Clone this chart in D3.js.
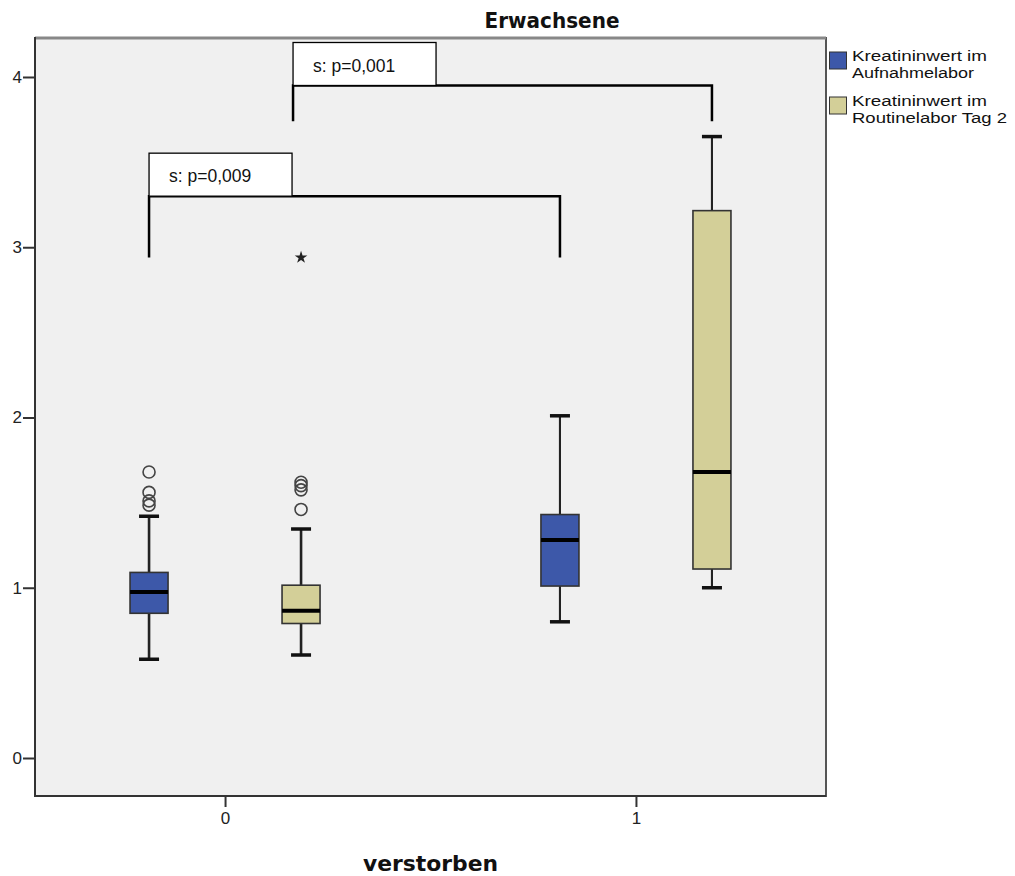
<!DOCTYPE html>
<html><head><meta charset="utf-8">
<script src="https://cdn.jsdelivr.net/npm/d3@7"></script>
<style>body{margin:0;background:#fff}</style>
</head><body><svg id="chart" width="1015" height="876"></svg>
<script>
// ---- data ----
const categories = ["0", "1"];
const seriesNames = ["Kreatininwert im Aufnahmelabor", "Kreatininwert im Routinelabor Tag 2"];
const legendLines = [["Kreatininwert im", "Aufnahmelabor"], ["Kreatininwert im", "Routinelabor Tag 2"]];
const legendWidths = [[135, 122], [135, 155]];
const yTicks = [0, 1, 2, 3, 4];
// index: [series][category]
const whiskerLow  = [[0.58, 0.80], [0.605, 1.00]];
const q1          = [[0.85, 1.01], [0.79, 1.11]];
const median      = [[0.975, 1.28], [0.865, 1.68]];
const q3          = [[1.09, 1.43], [1.015, 3.215]];
const whiskerHigh = [[1.42, 2.01], [1.345, 3.65]];
const outliers    = [[[1.68, 1.56, 1.51, 1.485], []], [[1.62, 1.60, 1.575, 1.46], []]];
const extremes    = [[[], []], [[2.94], []]];
const sigLabels = ["s: p=0,009", "s: p=0,001"];
const sigSeries = [0, 1];
const sigBottom = [2.94, 3.74];
const sigTop    = [3.30, 3.95];
const title = "Erwachsene";
const xTitle = "verstorben";
const colors = ["#3d58a9", "#d3cf98"];

// ---- layout ----
const svg = d3.select("#chart");
const L = 35, R = 826, T = 38, B = 796;
const x = d3.scalePoint().domain(categories).range([L, R]).padding(0.4625);
const off = d3.scalePoint().domain(d3.range(seriesNames.length)).range([-76, 76]);
const y = d3.scaleLinear().domain([-0.2232, 4.229]).range([B, T]);
const bw = 38;

svg.append("rect").attr("x", L).attr("y", T).attr("width", R - L).attr("height", B - T)
  .attr("fill", "#f0f0f0");

// boxes
const items = [];
seriesNames.forEach((s, si) => categories.forEach((c, ci) => items.push({si, ci, cx: x(c) + off(si)})));
const g = svg.append("g");
items.forEach(d => {
  const {si, ci, cx} = d;
  const gg = g.append("g");
  const ww = ci === 0 ? 2.6 : 2.1;
  gg.append("line").attr("x1", cx).attr("x2", cx)
    .attr("y1", y(whiskerLow[si][ci])).attr("y2", y(q1[si][ci]))
    .attr("stroke", "#222").attr("stroke-width", ww);
  gg.append("line").attr("x1", cx).attr("x2", cx)
    .attr("y1", y(q3[si][ci])).attr("y2", y(whiskerHigh[si][ci]))
    .attr("stroke", "#222").attr("stroke-width", ww);
  [whiskerLow[si][ci], whiskerHigh[si][ci]].forEach(v => {
    gg.append("line").attr("x1", cx - 10).attr("x2", cx + 10)
      .attr("y1", y(v)).attr("y2", y(v)).attr("stroke", "#111").attr("stroke-width", 3.5);
  });
  gg.append("rect").attr("x", cx - bw / 2).attr("width", bw)
    .attr("y", y(q3[si][ci])).attr("height", y(q1[si][ci]) - y(q3[si][ci]))
    .attr("fill", colors[si]).attr("stroke", "#333").attr("stroke-width", 1.6);
  gg.append("line").attr("x1", cx - bw / 2).attr("x2", cx + bw / 2)
    .attr("y1", y(median[si][ci])).attr("y2", y(median[si][ci]))
    .attr("stroke", "#000").attr("stroke-width", 4);
  outliers[si][ci].forEach(v => {
    gg.append("circle").attr("cx", cx).attr("cy", y(v)).attr("r", 6)
      .attr("fill", "none").attr("stroke", "#444").attr("stroke-width", 1.6);
  });
  extremes[si][ci].forEach(v => {
    gg.append("path").attr("d", d3.symbol(d3.symbolStar, 50)())
      .attr("transform", `translate(${cx},${y(v)})`).attr("fill", "#222");
  });
});

// significance brackets
sigLabels.forEach((lab, i) => {
  const si = sigSeries[i];
  const x1 = x(categories[0]) + off(si) - (si === 1 ? 8 : 0);
  const x2 = x(categories[1]) + off(si);
  const yb = y(sigBottom[i]), yt = y(sigTop[i]);
  const ga = svg.append("g");
  ga.append("path").attr("d", `M${x1},${yb}V${yt}H${x2}V${yb}`)
    .attr("fill", "none").attr("stroke", "#000").attr("stroke-width", 2.5);
  ga.append("rect").attr("x", x1).attr("y", yt - 43).attr("width", 143).attr("height", 43)
    .attr("fill", "#fff").attr("stroke", "#000").attr("stroke-width", 1.3);
  ga.append("text").attr("x", x1 + 20).attr("y", yt - 14)
    .attr("font-family", "Liberation Sans, Arial, sans-serif").attr("font-size", 17.5)
    .attr("fill", "#111").text(lab);
});

// frame
svg.append("rect").attr("x", L).attr("y", T).attr("width", R - L).attr("height", B - T)
  .attr("fill", "none").attr("stroke", "#555").attr("stroke-width", 2);
svg.append("line").attr("x1", L).attr("x2", R).attr("y1", T).attr("y2", T)
  .attr("stroke", "#888").attr("stroke-width", 3);
svg.append("line").attr("x1", L).attr("x2", L).attr("y1", T - 1).attr("y2", B + 1)
  .attr("stroke", "#333").attr("stroke-width", 2);
svg.append("line").attr("x1", L - 1).attr("x2", R).attr("y1", B).attr("y2", B)
  .attr("stroke", "#333").attr("stroke-width", 2);

// axes
const ya = svg.append("g").attr("transform", `translate(${L - 1},0)`)
  .call(d3.axisLeft(y).tickValues(yTicks).tickSize(11).tickSizeOuter(0).tickFormat(d3.format("d")));
ya.select(".domain").remove();
ya.selectAll(".tick line").attr("stroke", "#333").attr("stroke-width", 2);
ya.selectAll(".tick text").attr("font-family", "Liberation Sans, Arial, sans-serif")
  .attr("font-size", 17).attr("fill", "#222").attr("x", -12);

const xa = svg.append("g").attr("transform", `translate(0,${B + 1})`)
  .call(d3.axisBottom(x).tickSize(10).tickSizeOuter(0));
xa.select(".domain").remove();
xa.selectAll(".tick line").attr("stroke", "#333").attr("stroke-width", 2);
xa.selectAll(".tick text").attr("font-family", "Liberation Sans, Arial, sans-serif")
  .attr("font-size", 17).attr("fill", "#222").attr("y", 15);

// titles
svg.append("text").attr("x", 552).attr("y", 28).attr("text-anchor", "middle")
  .attr("font-family", "DejaVu Sans, sans-serif").attr("font-weight", "bold")
  .attr("font-size", 21).attr("textLength", 135).attr("lengthAdjust", "spacingAndGlyphs")
  .attr("fill", "#111").text(title);
svg.append("text").attr("x", (L + R) / 2).attr("y", 871).attr("text-anchor", "middle")
  .attr("font-family", "DejaVu Sans, sans-serif").attr("font-weight", "bold")
  .attr("font-size", 21).attr("textLength", 135).attr("lengthAdjust", "spacingAndGlyphs")
  .attr("fill", "#111").text(xTitle);

// legend
const lg = svg.append("g");
legendLines.forEach((lines, i) => {
  const top = 52 + i * 45;
  lg.append("rect").attr("x", 829.5).attr("y", top).attr("width", 17).attr("height", 17)
    .attr("fill", colors[i]).attr("stroke", "#333").attr("stroke-width", 1);
  lines.forEach((t, j) => {
    lg.append("text").attr("x", 852).attr("y", top + 9 + j * 16.5)
      .attr("font-family", "Liberation Sans, Arial, sans-serif").attr("font-size", 15.5)
      .attr("textLength", legendWidths[i][j]).attr("lengthAdjust", "spacingAndGlyphs")
      .attr("fill", "#111").text(t);
  });
});
</script></body></html>
